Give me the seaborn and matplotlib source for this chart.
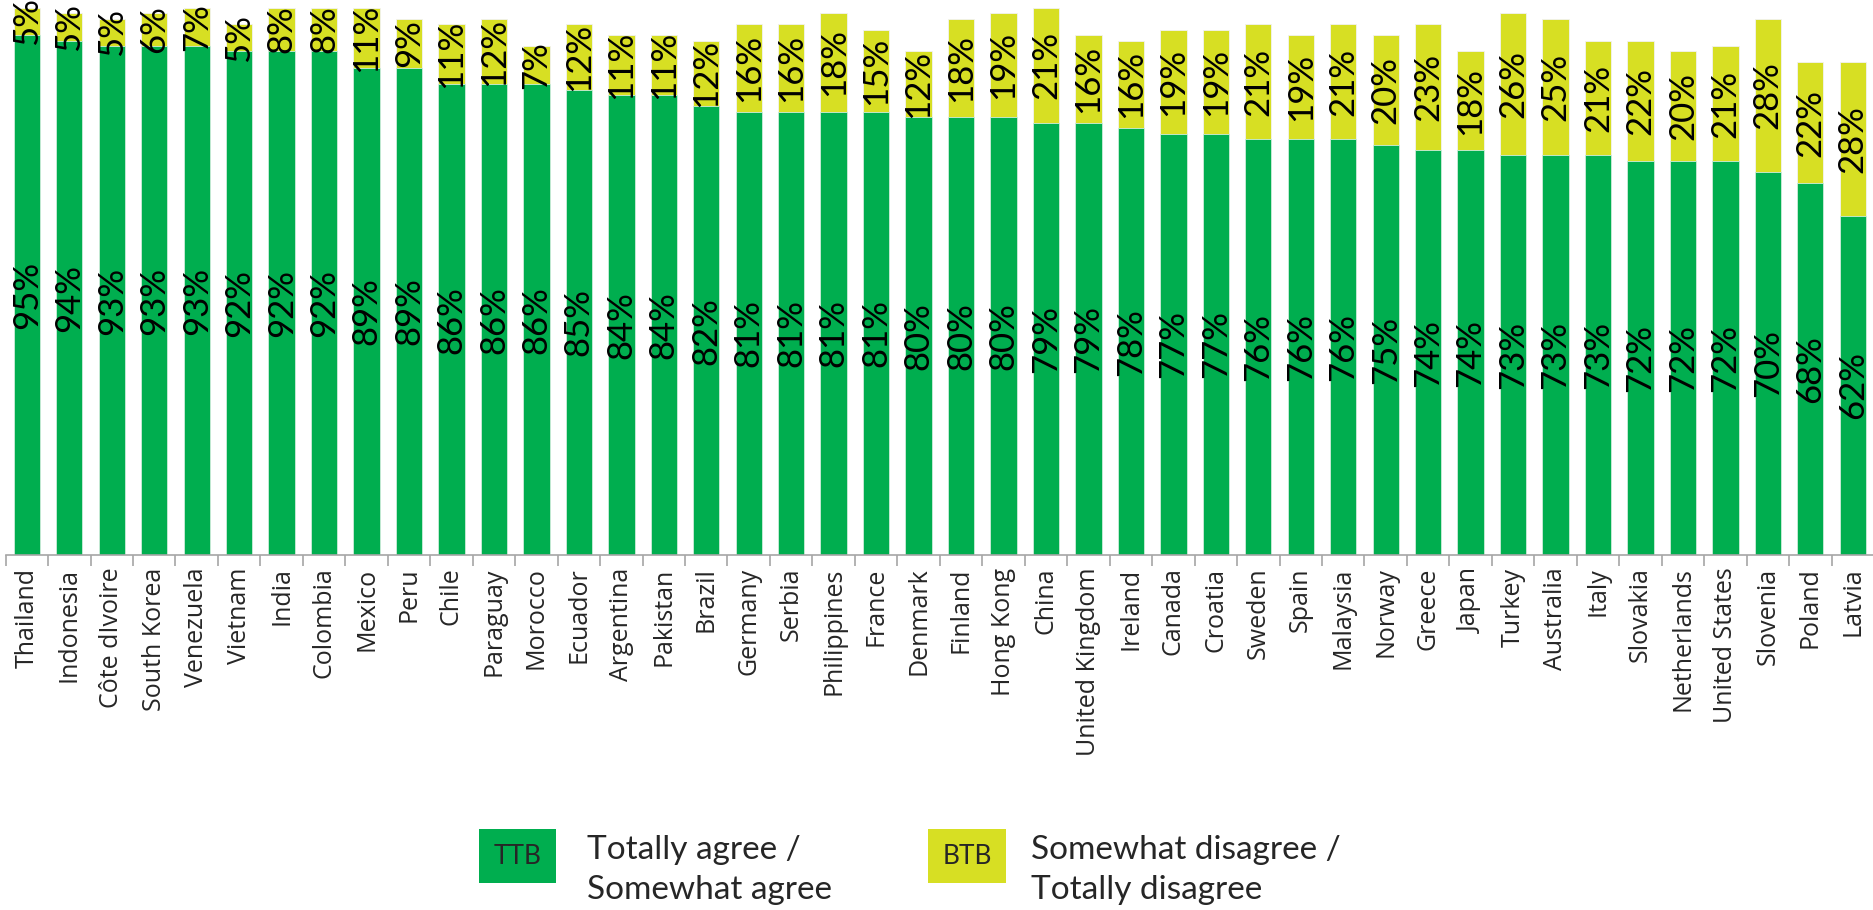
import matplotlib
matplotlib.use("Agg")
import matplotlib.pyplot as plt
import seaborn as sns
import pandas as pd
import numpy as np

countries = ["Thailand", "Indonesia", "Côte dIvoire", "South Korea", "Venezuela", "Vietnam",
             "India", "Colombia", "Mexico", "Peru", "Chile", "Paraguay", "Morocco", "Ecuador",
             "Argentina", "Pakistan", "Brazil", "Germany", "Serbia", "Philippines", "France",
             "Denmark", "Finland", "Hong Kong", "China", "United Kingdom", "Ireland", "Canada",
             "Croatia", "Sweden", "Spain", "Malaysia", "Norway", "Greece", "Japan", "Turkey",
             "Australia", "Italy", "Slovakia", "Netherlands", "United States", "Slovenia",
             "Poland", "Latvia"]
ttb = [95, 94, 93, 93, 93, 92, 92, 92, 89, 89, 86, 86, 86, 85, 84, 84, 82, 81, 81, 81, 81,
       80, 80, 80, 79, 79, 78, 77, 77, 76, 76, 76, 75, 74, 74, 73, 73, 73, 72, 72, 72, 70,
       68, 62]
btb = [5, 5, 5, 6, 7, 5, 8, 8, 11, 9, 11, 12, 7, 12, 11, 11, 12, 16, 16, 18, 15, 12, 18, 19,
       21, 16, 16, 19, 19, 21, 19, 21, 20, 23, 18, 26, 25, 21, 22, 20, 21, 28, 22, 28]
legend_codes = ["TTB", "BTB"]
legend_labels = ["Totally agree /\nSomewhat agree", "Somewhat disagree /\nTotally disagree"]

GREEN = "#00AE4F"
YELLOW = "#D7DF23"

df = pd.DataFrame({"country": countries, "ttb": ttb, "btb": btb})
df["total"] = df["ttb"] + df["btb"]

sns.set_theme(style="white")
plt.rcParams["font.family"] = ["Open Sans", "DejaVu Sans"]

fig = plt.figure(figsize=(18.74, 9.10), dpi=100)
ax = fig.add_axes([0.003, 0.39, 0.997, 0.61])

sns.barplot(data=df, x="country", y="total", color=YELLOW, saturation=1, width=0.62,
            edgecolor="#f2f2f2", linewidth=0.6, ax=ax)
sns.barplot(data=df, x="country", y="ttb", color=GREEN, saturation=1, width=0.62,
            edgecolor="#cfeedd", linewidth=0.6, ax=ax)

lf = ["Lato", "DejaVu Sans"]
for i, (a, b) in enumerate(zip(df["ttb"], df["btb"])):
    ax.text(i, a / 2, f"{a}%", rotation=90, ha="center", va="center",
            fontsize=25, family=lf, color="black")
    ax.text(i, a + b / 2, f"{b}%", rotation=90, ha="center", va="center",
            fontsize=25, family=lf, color="black")

ax.set_xlim(-0.5, len(countries) - 0.5)
ax.set_ylim(0, 101.4)
ax.set_xlabel("")
ax.set_ylabel("")
ax.set_yticks([])
for s in ["top", "right", "left"]:
    ax.spines[s].set_visible(False)
ax.spines["bottom"].set_color("#A6A6A6")
ax.spines["bottom"].set_linewidth(1.2)

ax.set_xticks(range(len(countries)))
ax.set_xticklabels(countries, rotation=90, fontsize=18)
ax.set_xticks(np.arange(-0.5, len(countries), 1.0), minor=True)
ax.tick_params(axis="x", which="major", length=0, pad=9)
ax.tick_params(axis="x", which="minor", length=8, width=1.2, color="#A6A6A6", bottom=True)

# legend
code_x = [0.276, 0.516]
label_x = [0.313, 0.550]
for cx, lx, code, lab, col in zip(code_x, label_x, legend_codes, legend_labels, [GREEN, YELLOW]):
    fig.text(cx, 0.0593, code, ha="center", va="center", fontsize=19, family=lf,
             bbox=dict(boxstyle="square,pad=0.55", fc=col, ec="none"))
    fig.text(lx, 0.044, lab, ha="left", va="center", fontsize=24, family=lf,
             linespacing=1.38)

fig.savefig("out.png", dpi=100)
